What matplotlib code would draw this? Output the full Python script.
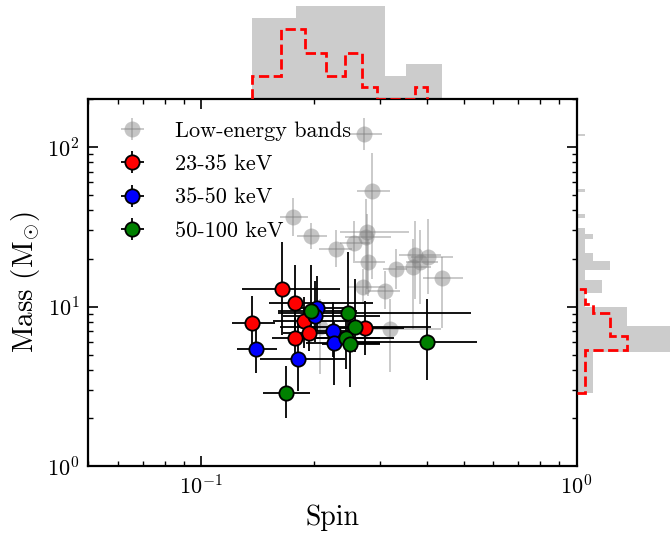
import numpy as np
import matplotlib
matplotlib.use('Agg')
import matplotlib.pyplot as plt

plt.rcParams['font.family'] = 'serif'
plt.rcParams['font.serif'] = ['cmr10']
plt.rcParams['mathtext.fontset'] = 'cm'
plt.rcParams['axes.unicode_minus'] = False
plt.rcParams['axes.formatter.use_mathtext'] = True

# ---- data: spin (value, low, high), mass (value, low, high) ----
gray_spin = [0.2723, 0.2859, 0.1760, 0.1966, 0.2292, 0.2560, 0.2773, 0.2757, 0.2790, 0.3294,
             0.3701, 0.3839, 0.4009, 0.3656, 0.4369, 0.2706, 0.3079, 0.3175, 0.2078]
gray_spin_lo = [0.2483, 0.2608, 0.1626, 0.1804, 0.2065, 0.2350, 0.2350, 0.2423, 0.2545, 0.3060,
                0.3356, 0.3502, 0.3611, 0.3294, 0.3887, 0.2468, 0.2790, 0.2773, 0.1838]
gray_spin_hi = [0.3041, 0.3175, 0.1931, 0.2169, 0.2529, 0.2825, 0.3567, 0.3195, 0.3079, 0.3545,
                0.4342, 0.4262, 0.4674, 0.4083, 0.4970, 0.3079, 0.3396, 0.4342, 0.2423]
gray_mass = [120.2, 52.7, 36.2, 27.5, 23.1, 24.9, 29.2, 27.1, 19.0, 17.1,
             20.9, 19.1, 20.3, 17.6, 15.2, 13.2, 12.6, 7.18, 7.4]
gray_mass_lo = [95.3, 14.8, 27.5, 22.8, 17.8, 19.2, 12.8, 11.9, 11.6, 12.8,
                11.1, 10.3, 11.9, 7.18, 7.29, 10.3, 9.59, 3.86, 3.75]
gray_mass_hi = [151.0, 91.3, 47.7, 33.2, 30.4, 34.2, 37.8, 47.0, 26.4, 22.8,
                34.2, 30.4, 35.2, 26.4, 20.3, 17.1, 16.6, 11.1, 11.1]

red_spin = [0.1643, 0.1780, 0.1366, 0.1875, 0.1935, 0.1774, 0.2740]
red_spin_lo = [0.1287, 0.1513, 0.1209, 0.1550, 0.1650, 0.1545, 0.2250]
red_spin_hi = [0.2350, 0.2865, 0.1576, 0.2500, 0.2600, 0.3260, 0.3460]
red_mass = [12.8, 10.57, 7.83, 8.06, 6.78, 6.34, 7.32]
red_mass_lo = [6.6, 5.8, 5.38, 5.5, 5.25, 4.9, 5.0]
red_mass_hi = [25.2, 18.3, 11.6, 11.5, 9.5, 8.5, 10.8]

blue_spin = [0.1403, 0.1807, 0.2040, 0.2015, 0.2244, 0.2265]
blue_spin_lo = [0.1246, 0.1432, 0.1750, 0.1650, 0.1900, 0.1900]
blue_spin_hi = [0.1593, 0.2423, 0.2500, 0.3000, 0.2800, 0.3000]
blue_mass = [5.44, 4.66, 9.8, 8.76, 6.98, 5.89]
blue_mass_lo = [3.84, 2.95, 7.0, 6.0, 4.8, 3.2]
blue_mass_hi = [7.53, 8.30, 15.6, 14.5, 10.6, 8.0]

green_spin = [0.1681, 0.1963, 0.2462, 0.2565, 0.2433, 0.2497, 0.3984]
green_spin_lo = [0.1462, 0.1600, 0.1605, 0.1626, 0.2000, 0.2100, 0.2165]
green_spin_hi = [0.1954, 0.2600, 0.5222, 0.4083, 0.3000, 0.3000, 0.5417]
green_mass = [2.85, 9.41, 9.05, 7.45, 6.34, 5.83, 5.98]
green_mass_lo = [2.01, 6.8, 6.5, 5.2, 4.03, 3.12, 3.45]
green_mass_hi = [4.23, 18.3, 21.9, 14.8, 9.0, 8.0, 11.19]

labels = ['Low-energy bands', '23-35 keV', '35-50 keV', '50-100 keV']


def errs(v, lo, hi):
    v = np.asarray(v); return [v - np.asarray(lo), np.asarray(hi) - v]


fig = plt.figure(figsize=(6.7, 5.34), dpi=100)
ax = fig.add_axes([0.1313, 0.1273, 0.7294, 0.6873])
ax_top = fig.add_axes([0.1313, 0.8146, 0.7294, 0.1854])
ax_right = fig.add_axes([0.8607, 0.1273, 0.1393, 0.6873])

ax.errorbar(gray_spin, gray_mass,
            xerr=errs(gray_spin, gray_spin_lo, gray_spin_hi),
            yerr=errs(gray_mass, gray_mass_lo, gray_mass_hi),
            fmt='o', color='gray', alpha=0.45, ms=11.5, mec='none',
            elinewidth=1.3, label=labels[0], zorder=2)
for (sp, slo, shi, ma, mlo, mhi, col, lab) in [
        (red_spin, red_spin_lo, red_spin_hi, red_mass, red_mass_lo, red_mass_hi, 'red', labels[1]),
        (blue_spin, blue_spin_lo, blue_spin_hi, blue_mass, blue_mass_lo, blue_mass_hi, 'blue', labels[2]),
        (green_spin, green_spin_lo, green_spin_hi, green_mass, green_mass_lo, green_mass_hi, 'green', labels[3])]:
    ax.errorbar(sp, ma, xerr=errs(sp, slo, shi), yerr=errs(ma, mlo, mhi),
                fmt='o', mfc=col, mec='k', ecolor='k', ms=10.3, mew=1.3,
                elinewidth=1.3, label=lab, zorder=3)

ax.set_xscale('log')
ax.set_yscale('log')
ax.set_xlim(0.05, 1)
ax.set_ylim(1, 200)
ax.set_xlabel('Spin', fontsize=20)
ax.set_ylabel(r'Mass (M$_{\odot}$)', fontsize=21)
ax.tick_params(which='both', direction='in', top=True, right=True, labelsize=16)
ax.tick_params(which='major', length=7, width=1.2, pad=6)
ax.tick_params(which='minor', length=3.5, width=1.0)
for sp in ax.spines.values():
    sp.set_linewidth(1.6)
ax.legend(loc='upper left', frameon=False, fontsize=16, handletextpad=0.9,
          borderaxespad=0.6, labelspacing=0.62, borderpad=0.4)

# ---- marginal histograms ----
all_spin = np.concatenate([gray_spin, red_spin, blue_spin, green_spin])
all_mass = np.concatenate([gray_mass, red_mass, blue_mass, green_mass])
hard_spin = np.concatenate([red_spin, blue_spin, green_spin])
hard_mass = np.concatenate([red_mass, blue_mass, green_mass])

c, e = np.histogram(all_spin, bins=7)
ax_top.bar(e[:-1], c, width=np.diff(e), align='edge', color='k', alpha=0.2, linewidth=0)
c, e = np.histogram(hard_spin, bins=10)
ax_top.stairs(c, e, color='red', linestyle='--', linewidth=2)
ax_top.set_xscale('log')
ax_top.set_xlim(0.05, 1)
ax_top.set_ylim(0, 8.53)
ax_top.axis('off')

c, e = np.histogram(all_mass, bins=50)
ax_right.barh(e[:-1], c, height=np.diff(e), align='edge', color='k', alpha=0.2, linewidth=0)
c, e = np.histogram(hard_mass, bins=8)
ax_right.stairs(c, e, orientation='horizontal', color='red', linestyle='--', linewidth=2)
ax_right.set_yscale('log')
ax_right.set_ylim(1, 200)
ax_right.set_xlim(0, 11.1)
ax_right.axis('off')

fig.savefig('out.png', dpi=100)
